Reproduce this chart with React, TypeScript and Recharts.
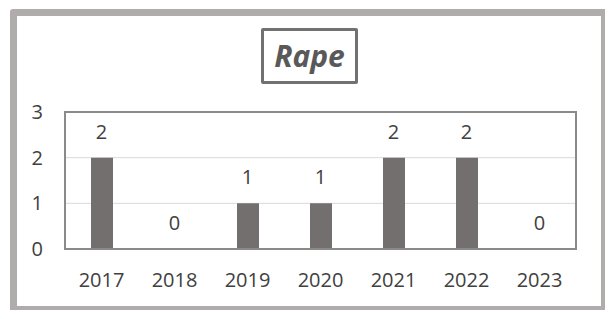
import { ComposedChart, Bar, Line, XAxis, YAxis, CartesianGrid, LabelList, ReferenceArea } from 'recharts';

const years = ['2017', '2018', '2019', '2020', '2021', '2022', '2023'];
const cases = [2, 0, 1, 1, 2, 2, 0];
const yTicks = [0, 1, 2, 3];

const data = years.map((year, i) => ({ year, cases: cases[i] }));

const font = '"Open Sans", sans-serif';
const textColor = '#404040';
const frameColor = '#8a8a8a';

export default function App() {
    return (
        <div style={{ position: 'absolute', left: 0, top: 0, width: 605, height: 310, overflow: 'hidden', background: '#fff', fontFamily: font }}>
            {/* outer frame */}
            <div style={{ position: 'absolute', left: 10, top: 9, width: 598, height: 304, boxSizing: 'border-box', border: '7px solid #b0acab', borderRadius: 3 }} />

            {/* title box */}
            <div style={{
                position: 'absolute', left: 261, top: 28, width: 97, height: 56, boxSizing: 'border-box',
                border: '3px solid #727070', borderRadius: 2, display: 'flex', alignItems: 'center', justifyContent: 'center',
                fontSize: 30, fontWeight: 700, fontStyle: 'italic', color: '#595959', lineHeight: 1,
            }}>
                Rape
            </div>

            <div style={{ position: 'absolute', left: 0, top: 0 }}>
                <ComposedChart width={605} height={310} data={data} margin={{ top: 112, right: 29, left: 32, bottom: 0 }}>
                    <CartesianGrid stroke="#d9d9d9" vertical={false} />
                    <XAxis
                        dataKey="year"
                        height={61}
                        tickLine={false}
                        tickSize={0}
                        tickMargin={24}
                        axisLine={{ stroke: frameColor, strokeWidth: 2 }}
                        tick={{ fill: textColor, fontSize: 20, fontFamily: font }}
                        interval={0}
                    />
                    <YAxis
                        domain={[0, 3]}
                        ticks={yTicks}
                        width={33}
                        tickLine={false}
                        tickSize={0}
                        tickMargin={22}
                        axisLine={{ stroke: frameColor, strokeWidth: 2 }}
                        tick={{ fill: textColor, fontSize: 20, fontFamily: font }}
                    />
                    <ReferenceArea y1={0} y2={3} fill="none" stroke={frameColor} strokeWidth={2} ifOverflow="visible" />
                    <Bar dataKey="cases" fill="#736f6e" barSize={22} isAnimationActive={false} />
                    <Line dataKey="cases" stroke="none" dot={false} activeDot={false} isAnimationActive={false} legendType="none">
                        <LabelList dataKey="cases" position="top" offset={19} fill={textColor} fontSize={20} fontFamily={font} />
                    </Line>
                </ComposedChart>
            </div>
        </div>
    );
}
